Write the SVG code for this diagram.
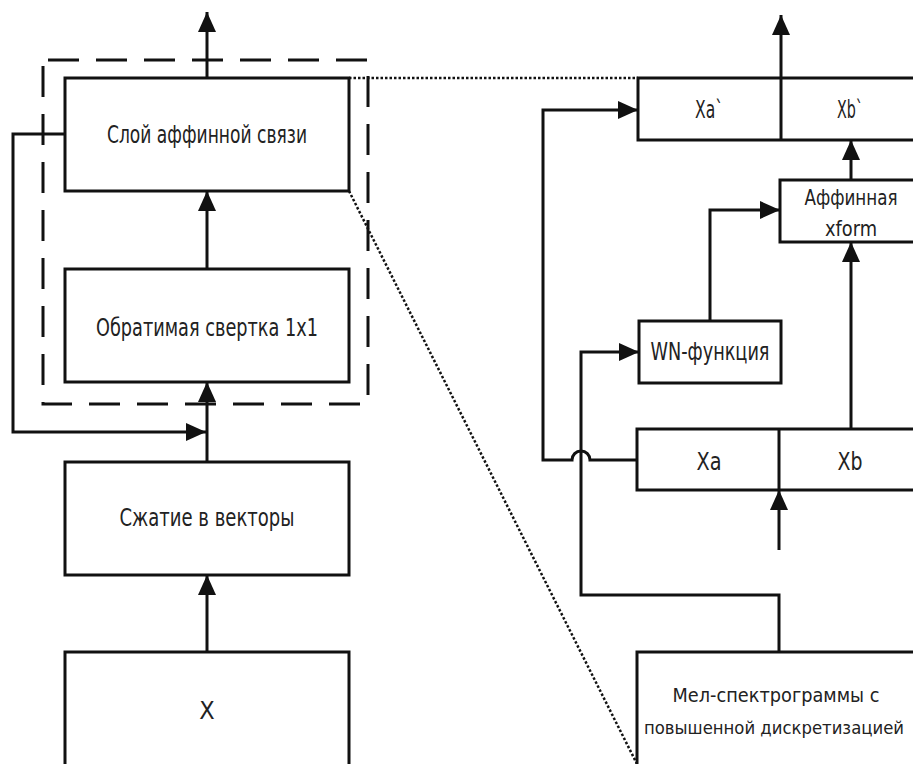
<svg xmlns="http://www.w3.org/2000/svg" width="913" height="764" viewBox="0 0 913 764">
<defs>
<style>
.box{fill:#fff;stroke:#111;stroke-width:3}
.ln{fill:none;stroke:#111;stroke-width:3}
.arr{marker-end:url(#ah)}
.dash{fill:none;stroke:#111;stroke-width:3;stroke-dasharray:31 17}
.dot{fill:none;stroke:#111;stroke-width:2.5;stroke-dasharray:2.5 2}
.t{font-family:"DejaVu Sans Condensed","Liberation Sans",sans-serif;font-size:25px;fill:#222;text-anchor:middle}
.m{font-size:22px}
.s{font-size:20px}
.xs{font-size:18px}
</style>
<marker id="ah" viewBox="0 0 20 18" refX="20" refY="9" markerWidth="20" markerHeight="18" orient="auto" markerUnits="userSpaceOnUse">
<path d="M0,0 L20,9 L0,18 Z" fill="#111"/>
</marker>
</defs>
<rect width="913" height="764" fill="#fff"/>

<g id="group-dashed">
<rect class="dash" x="43" y="60" width="325" height="344" stroke-dashoffset="-5"/>
</g>

<g id="zoom-lines">
<path class="dot" d="M349,78 H638"/>
<path class="dot" d="M349,191 L638,766"/>
</g>

<g id="node-affine-layer">
<rect class="box" x="65" y="78" width="284" height="113"/>
<text class="t" x="207" y="143" textLength="200" lengthAdjust="spacingAndGlyphs">Слой аффинной связи</text>
</g>
<g id="node-conv">
<rect class="box" x="65" y="269" width="284" height="113"/>
<text class="t" x="207" y="336" textLength="222" lengthAdjust="spacingAndGlyphs">Обратимая свертка 1x1</text>
</g>
<g id="node-squeeze">
<rect class="box" x="65" y="462" width="284" height="113"/>
<text class="t" x="207" y="526" textLength="175" lengthAdjust="spacingAndGlyphs">Сжатие в векторы</text>
</g>
<g id="node-x">
<path class="box" d="M65,766 V652 H349 V766"/>
<text class="t" x="207" y="719">X</text>
</g>

<g id="node-xout">
<path class="box" d="M916,78 H638 V140 H916"/>
<line class="ln" x1="781" y1="78" x2="781" y2="140"/>
<text class="t" x="709" y="118" textLength="28" lengthAdjust="spacingAndGlyphs">Xa`</text>
<text class="t" x="850" y="118" textLength="26" lengthAdjust="spacingAndGlyphs">Xb`</text>
</g>
<g id="node-affine-xform">
<path class="box" d="M916,180 H780 V242 H916"/>
<text class="t m" x="851" y="205" textLength="93" lengthAdjust="spacingAndGlyphs">Аффинная</text>
<text class="t m" x="851" y="236" textLength="52" lengthAdjust="spacingAndGlyphs">xform</text>
</g>
<g id="node-wn">
<rect class="box" x="639" y="321" width="142" height="62"/>
<text class="t" x="710" y="360" textLength="119" lengthAdjust="spacingAndGlyphs">WN-функция</text>
</g>
<g id="node-xin">
<path class="box" d="M916,429 H637 V490 H916"/>
<line class="ln" x1="779" y1="429" x2="779" y2="490"/>
<text class="t" x="709" y="470" textLength="25" lengthAdjust="spacingAndGlyphs">Xa</text>
<text class="t" x="850" y="470" textLength="25" lengthAdjust="spacingAndGlyphs">Xb</text>
</g>
<g id="node-mel">
<path class="box" d="M916,652 H637 V766"/>
<text class="t s" x="776" y="702" textLength="207" lengthAdjust="spacingAndGlyphs">Мел-спектрограммы с</text>
<text class="t xs" x="774" y="734" textLength="260" lengthAdjust="spacingAndGlyphs">повышенной дискретизацией</text>
</g>

<g id="connectors">
<path class="ln arr" d="M207,78 V12"/>
<path class="ln arr" d="M207,269 V191"/>
<path class="ln arr" d="M207,462 V382"/>
<path class="ln arr" d="M65,134 H13 V432 H206"/>
<path class="ln arr" d="M207,652 V575"/>
<path class="ln arr" d="M781,78 V15"/>
<path class="ln arr" d="M851,180 V140"/>
<path class="ln arr" d="M851,429 V242"/>
<path class="ln arr" d="M710,321 V210 H780"/>
<path class="ln arr" d="M637,460 H590 A9,9 0 0 0 572,460 H543 V110 H638"/>
<path class="ln arr" d="M779,652 V595 H581 V352 H639"/>
<path class="ln arr" d="M779,550 V490"/>
</g>
</svg>
